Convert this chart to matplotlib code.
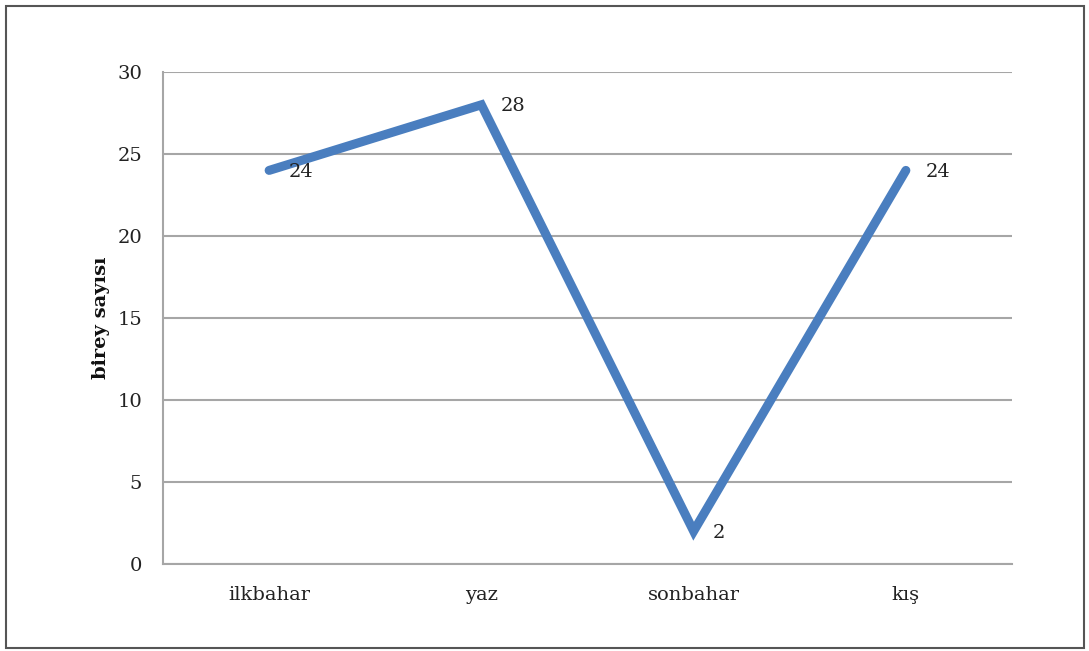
import matplotlib
matplotlib.use("Agg")
import matplotlib.pyplot as plt
from matplotlib.patches import Rectangle

seasons = ["ilkbahar", "yaz", "sonbahar", "kış"]
counts = [24, 28, 2, 24]
yticks = [0, 5, 10, 15, 20, 25, 30]

plt.rcParams["font.family"] = ["DejaVu Serif"]

W, H = 1089, 651
fig = plt.figure(figsize=(W / 100, H / 100), dpi=100)
fig.patch.set_facecolor("white")

# outer frame around the whole chart
fig.add_artist(Rectangle((6 / W, 1 - 648 / H), (1084 - 6) / W, (648 - 6) / H,
                         transform=fig.transFigure, fill=False,
                         edgecolor="#555555", linewidth=1.5))

left, right, top, bottom = 163, 1012, 72, 564
ax = fig.add_axes([left / W, 1 - bottom / H, (right - left) / W, (bottom - top) / H])

x = list(range(len(seasons)))
ax.plot(x, counts, color="#4a7ebf", linewidth=6.5, solid_capstyle="round",
        solid_joinstyle="miter", zorder=3)
for xi, v in zip(x, counts):
    ax.annotate(str(v), (xi, v), xytext=(14, -1), textcoords="offset points",
                ha="left", va="center", fontsize=14, color="#222222", zorder=4)

ax.set_xlim(-0.5, len(seasons) - 0.5)
ax.set_ylim(0, 30)
ax.set_yticks(yticks)
ax.set_xticks(x)
ax.set_xticklabels(seasons)
ax.tick_params(axis="both", length=0, labelsize=14, colors="#222222")
ax.tick_params(axis="y", pad=15)
ax.tick_params(axis="x", pad=16)
ax.grid(axis="y", color="#a6a6a6", linewidth=1.5)
ax.set_axisbelow(True)
for side in ["top", "right"]:
    ax.spines[side].set_visible(False)
for side in ["left", "bottom"]:
    ax.spines[side].set_color("#a6a6a6")
    ax.spines[side].set_linewidth(1.5)

ax.set_ylabel("birey sayısı", fontsize=14, fontweight="bold", color="#111111", labelpad=5)

fig.savefig("out.png", dpi=100)
